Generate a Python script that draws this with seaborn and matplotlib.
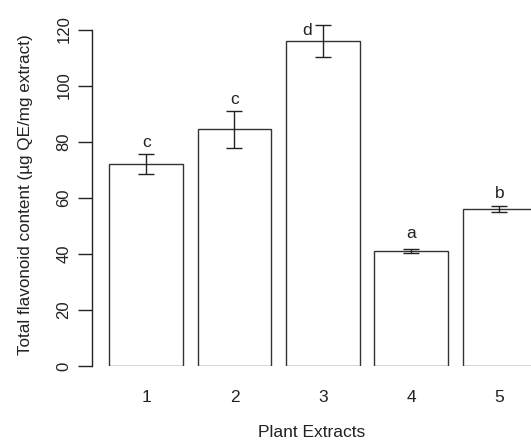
import matplotlib
matplotlib.use("Agg")
import matplotlib.pyplot as plt
import seaborn as sns
import pandas as pd
import numpy as np

extracts = ["1", "2", "3", "4", "5"]
means = [72.1, 84.4, 115.9, 41.0, 56.0]
errors = [3.6, 6.5, 5.6, 0.6, 1.0]
letters = ["c", "c", "d", "a", "b"]
letter_y = [79.8, 94.9, 119.6, 47.2, 61.6]
letter_dx = [0.0, 0.0, -0.18, 0.0, 0.0]

sns.set_theme(style="white")
plt.rcParams['font.family'] = ['Liberation Sans', 'DejaVu Sans']

df = pd.DataFrame({"extract": extracts, "mean": means})

fig = plt.figure(figsize=(5.31, 4.41), dpi=100)
W, H = 531, 441
ax_left_px = 92.4
y0_px, y120_px = 366, 29.5
ymax = 126
ppu = (y0_px - y120_px) / 120.0
top_px = y0_px - ymax * ppu
ax = fig.add_axes([ax_left_px / W, (H - y0_px) / H, (W - ax_left_px) / W, (y0_px - top_px) / H])

bw = 1 / 1.2
sns.barplot(data=df, x="extract", y="mean", color="white", edgecolor="#333333",
            linewidth=1.0, width=bw, errorbar=None, saturation=1, ax=ax)
xs = np.arange(len(extracts))
ax.errorbar(xs, means, yerr=errors, fmt="none", ecolor="#222222", elinewidth=1.0,
            capsize=5.6, capthick=1.0, clip_on=False, zorder=5)
for x, t, ly, dx in zip(xs, letters, letter_y, letter_dx):
    ax.text(x + dx, ly, t, ha="center", va="center", fontsize=12.5, color="#222222")

spacing_px = 88.3
bar1_left_px = 109.4
xl = -bw / 2 - (bar1_left_px - ax_left_px) / spacing_px
xr = -bw / 2 + (W - bar1_left_px) / spacing_px
ax.set_xlim(xl, xr)
ax.set_ylim(0, ymax)

for s in ["top", "right", "bottom"]:
    ax.spines[s].set_visible(False)
ax.spines["left"].set_bounds(0, 120)
ax.spines["left"].set_color("#222222")
ax.spines["left"].set_linewidth(1.0)
ax.set_yticks([0, 20, 40, 60, 80, 100, 120])
ax.set_yticklabels(["0", "20", "40", "60", "80", "100", "120"], rotation=90, va="center")
ax.tick_params(axis="y", left=True, length=10, width=1.0, color="#222222", pad=5,
               labelsize=12, labelcolor="#222222")
ax.tick_params(axis="x", bottom=False, length=0, pad=17, labelsize=12.5, labelcolor="#222222")
ax.set_xlabel("Plant Extracts", fontsize=12.5, color="#222222", labelpad=15)
ax.set_ylabel("Total flavonoid content (µg QE/mg extract)", fontsize=12.3, color="#222222")
ax.yaxis.set_label_coords(-(92.4 - 33.0) / (W - ax_left_px), 61.0 / ymax)
ax.patch.set_alpha(0)

fig.savefig("out.png", dpi=100)
